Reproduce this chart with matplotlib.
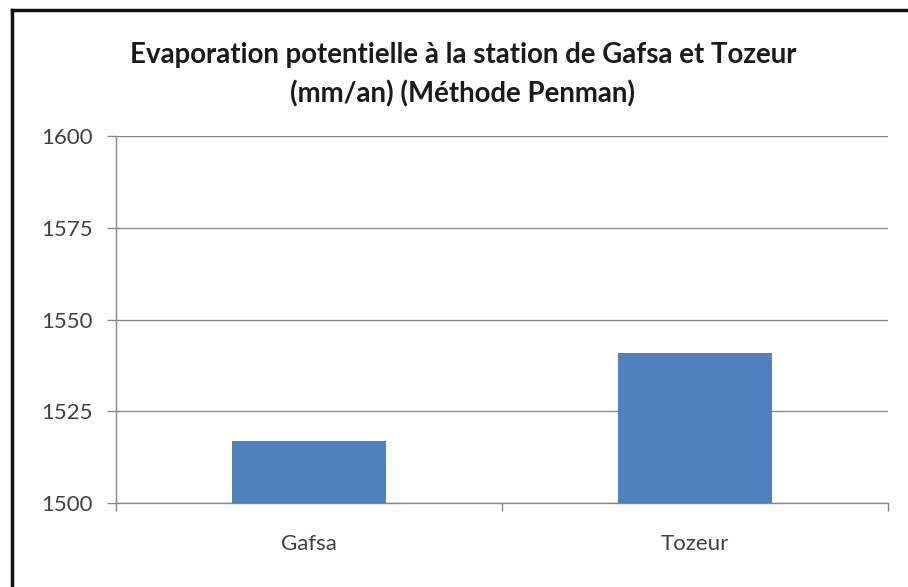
import matplotlib
matplotlib.use("Agg")
import matplotlib.pyplot as plt
from matplotlib.lines import Line2D

plt.rcParams['font.family'] = ['Lato', 'DejaVu Sans']

stations = ["Gafsa", "Tozeur"]
etp_penman = [1517, 1541]
y_ticks = [1500, 1525, 1550, 1575, 1600]
title = "Evaporation potentielle à la station de Gafsa et Tozeur\n(mm/an) (Méthode Penman)"

bar_color = "#4f81bd"
axis_color = "#868686"

fig = plt.figure(figsize=(9.08, 5.87), dpi=100)
W, H = 908, 587
ax = fig.add_axes([116 / W, 1 - 503 / H, (888 - 116) / W, (503 - 136) / H])

x = list(range(len(stations)))
ax.bar(x, etp_penman, width=0.4, color=bar_color, zorder=3)

ax.set_xlim(-0.5, len(stations) - 0.5)
ax.set_ylim(y_ticks[0], y_ticks[-1])
ax.set_yticks(y_ticks)
ax.set_yticklabels([str(v) for v in y_ticks], fontsize=16, color="#404040")
ax.yaxis.grid(True, color=axis_color, linewidth=1, zorder=0)
ax.set_axisbelow(True)

# category ticks sit on the boundaries between stations
ax.set_xticks([i - 0.5 for i in range(len(stations) + 1)])
ax.set_xticklabels([])
ax.set_xticks(x, minor=True)
ax.set_xticklabels(stations, minor=True, fontsize=16, color="#404040")
ax.tick_params(axis="x", which="major", length=6, color=axis_color, width=1)
ax.tick_params(axis="x", which="minor", length=0, pad=22)
ax.tick_params(axis="y", length=6.5, color=axis_color, width=1, pad=10)

for side in ("top", "right"):
    ax.spines[side].set_visible(False)
for side in ("left", "bottom"):
    ax.spines[side].set_color(axis_color)
    ax.spines[side].set_linewidth(1)

fig.text(463 / W, 1 - 75 / H, title, ha="center", va="center",
         fontsize=19.9, fontweight="bold", color="#1a1a1a", linespacing=1.55)

# chart frame (left and top edges)
fig.add_artist(Line2D([12 / W, 12 / W], [0, 1 - 10 / H], transform=fig.transFigure,
                      color="#111111", linewidth=2.5))
fig.add_artist(Line2D([12 / W, 1], [1 - 10 / H, 1 - 10 / H], transform=fig.transFigure,
                      color="#111111", linewidth=2.5))

fig.savefig("out.png", dpi=100, facecolor="white")
